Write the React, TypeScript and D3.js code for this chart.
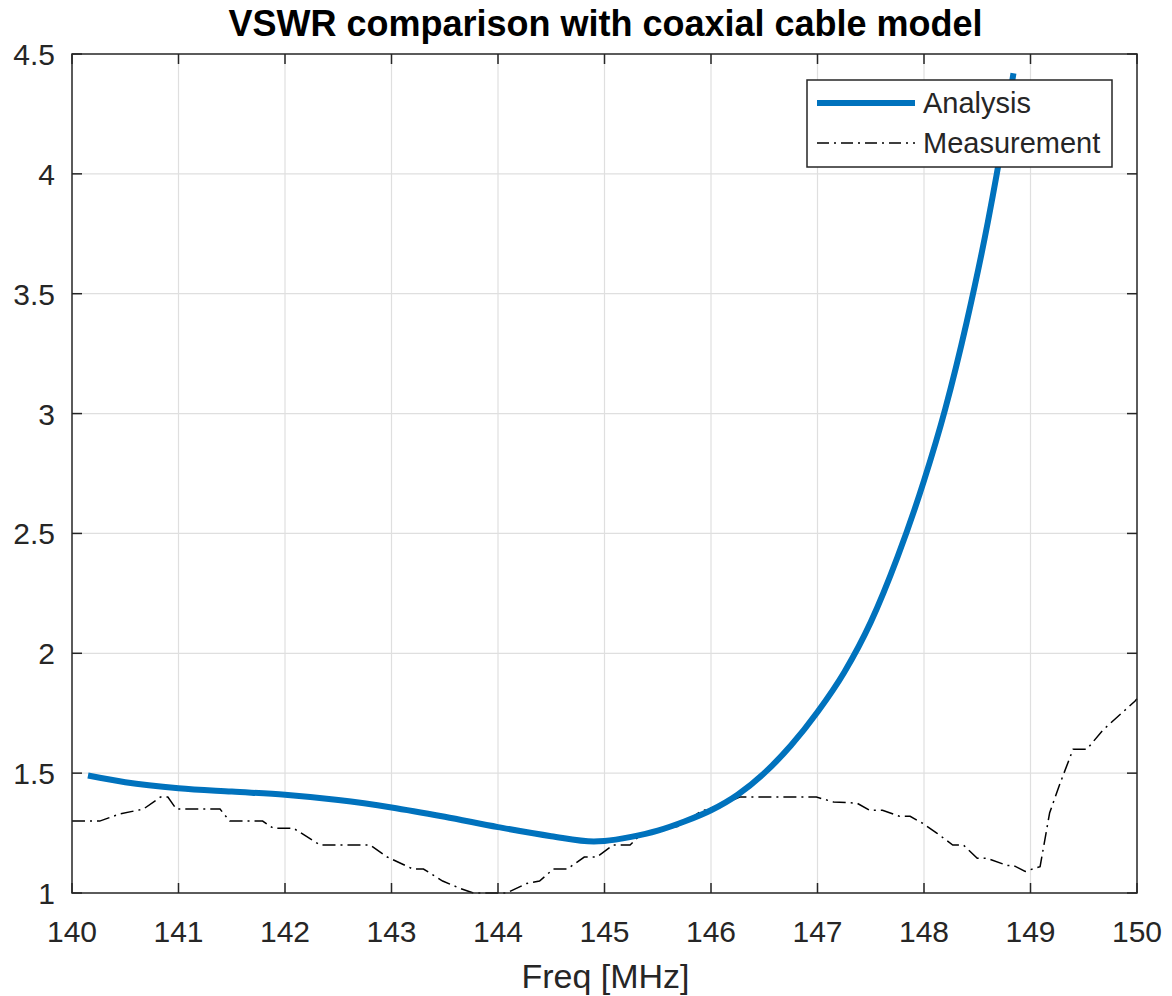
// VSWR chart: analysis vs measurement, matlab-ish look
import React, { useEffect, useRef } from "react";
import * as d3 from "d3";

const analysisFreq = [140.15, 140.5, 141, 141.5, 142, 142.5, 143, 143.5, 144, 144.5, 144.9, 145, 145.25, 145.5, 145.75, 146, 146.25, 146.5, 146.75, 147, 147.25, 147.5, 147.75, 148, 148.2, 148.4, 148.6, 148.75, 148.84];
const analysisVswr = [1.49, 1.462, 1.437, 1.423, 1.41, 1.388, 1.357, 1.318, 1.275, 1.237, 1.215, 1.217, 1.234, 1.26, 1.298, 1.345, 1.41, 1.50, 1.615, 1.755, 1.92, 2.13, 2.40, 2.72, 3.02, 3.38, 3.80, 4.17, 4.42];

const measFreq = [140.0, 140.26, 140.45, 140.67, 140.83, 140.9, 140.98, 141.39, 141.48, 141.79, 141.89, 142.08, 142.33, 142.8, 142.96, 143.2, 143.3, 143.48, 143.64, 143.77, 144.08, 144.27, 144.39, 144.52, 144.65, 144.81, 144.93, 145.08, 145.24, 145.33, 145.49, 145.71, 145.9, 146.11, 146.27, 146.99, 147.15, 147.37, 147.49, 147.61, 147.77, 147.87, 147.99, 148.12, 148.27, 148.37, 148.5, 148.59, 148.78, 148.84, 148.95, 149.09, 149.18, 149.28, 149.4, 149.53, 149.68, 149.98, 150.0];
const measVswr = [1.30, 1.30, 1.33, 1.35, 1.40, 1.40, 1.35, 1.35, 1.30, 1.30, 1.27, 1.27, 1.20, 1.20, 1.15, 1.10, 1.10, 1.05, 1.02, 1.00, 1.00, 1.04, 1.05, 1.10, 1.10, 1.15, 1.15, 1.20, 1.20, 1.24, 1.26, 1.28, 1.34, 1.37, 1.40, 1.40, 1.38, 1.375, 1.345, 1.345, 1.32, 1.32, 1.29, 1.25, 1.20, 1.20, 1.145, 1.145, 1.115, 1.115, 1.09, 1.11, 1.335, 1.46, 1.60, 1.60, 1.68, 1.80, 1.81];

const xTicks = [140, 141, 142, 143, 144, 145, 146, 147, 148, 149, 150];
const yTicks = [1, 1.5, 2, 2.5, 3, 3.5, 4, 4.5];
const seriesNames = ["Analysis", "Measurement"];

const W = 1172;
const H = 996;
const FONT = "'Liberation Sans', Arial, Helvetica, sans-serif";
const INK = "#262626";

export default function App() {
  const ref = useRef<SVGSVGElement>(null);

  useEffect(() => {
    const svg = d3.select(ref.current);
    svg.selectAll("*").remove();

    const left = 72, right = 1137, top = 54, bottom = 893;
    const x = d3.scaleLinear().domain([140, 150]).range([left, right]);
    const y = d3.scaleLinear().domain([1, 4.5]).range([bottom, top]);

    svg.append("rect").attr("width", W).attr("height", H).attr("fill", "#fff");

    // grid
    const grid = svg.append("g").attr("stroke", "#dfdfdf").attr("stroke-width", 1.2);
    grid.selectAll("line.gx")
      .data(xTicks.slice(1, -1))
      .enter().append("line")
      .attr("x1", d => x(d)).attr("x2", d => x(d))
      .attr("y1", top).attr("y2", bottom);
    grid.selectAll("line.gy")
      .data(yTicks.slice(1, -1))
      .enter().append("line")
      .attr("x1", left).attr("x2", right)
      .attr("y1", d => y(d)).attr("y2", d => y(d));

    // series
    const aData = analysisFreq.map((f, i) => [f, analysisVswr[i]] as [number, number]);
    const mData = measFreq.map((f, i) => [f, measVswr[i]] as [number, number]);

    const smooth = d3.line().x(d => x(d[0])).y(d => y(d[1])).curve(d3.curveMonotoneX);
    const straight = d3.line().x(d => x(d[0])).y(d => y(d[1]));

    svg.append("path")
      .attr("d", straight(mData))
      .attr("fill", "none")
      .attr("stroke", "#000")
      .attr("stroke-width", 1.5)
      .attr("stroke-dasharray", "13,5,2,5");

    svg.append("path")
      .attr("d", smooth(aData))
      .attr("fill", "none")
      .attr("stroke", "#0072BD")
      .attr("stroke-width", 6)
      .attr("stroke-linejoin", "round");

    // box + ticks
    const axis = svg.append("g").attr("stroke", INK).attr("stroke-width", 1.5);
    axis.append("rect")
      .attr("x", left).attr("y", top)
      .attr("width", right - left).attr("height", bottom - top)
      .attr("fill", "none");
    const tk = 10;
    xTicks.forEach(t => {
      axis.append("line").attr("x1", x(t)).attr("x2", x(t)).attr("y1", bottom).attr("y2", bottom - tk);
      axis.append("line").attr("x1", x(t)).attr("x2", x(t)).attr("y1", top).attr("y2", top + tk);
    });
    yTicks.forEach(t => {
      axis.append("line").attr("x1", left).attr("x2", left + tk).attr("y1", y(t)).attr("y2", y(t));
      axis.append("line").attr("x1", right).attr("x2", right - tk).attr("y1", y(t)).attr("y2", y(t));
    });

    // tick labels
    const labels = svg.append("g").attr("font-family", FONT).attr("fill", INK).attr("font-size", 30);
    labels.selectAll("text.xt")
      .data(xTicks)
      .enter().append("text")
      .attr("x", d => x(d)).attr("y", 942)
      .attr("text-anchor", "middle")
      .text(d => String(d));
    labels.selectAll("text.yt")
      .data(yTicks)
      .enter().append("text")
      .attr("x", 55).attr("y", d => y(d) + 11)
      .attr("text-anchor", "end")
      .text(d => d3.format("")(d));

    svg.append("text")
      .attr("x", (left + right) / 2 + 1).attr("y", 988)
      .attr("text-anchor", "middle")
      .attr("font-family", FONT).attr("font-size", 34).attr("fill", INK)
      .text("Freq [MHz]");

    svg.append("text")
      .attr("x", (left + right) / 2 + 1).attr("y", 36)
      .attr("text-anchor", "middle")
      .attr("font-family", FONT).attr("font-size", 36).attr("font-weight", "bold").attr("fill", "#000")
      .text("VSWR comparison with coaxial cable model");

    // legend
    const lg = svg.append("g");
    lg.append("rect")
      .attr("x", 807).attr("y", 80).attr("width", 305).attr("height", 87)
      .attr("fill", "#fff").attr("stroke", INK).attr("stroke-width", 1.5);
    const styles = [
      { stroke: "#0072BD", width: 6, dash: null },
      { stroke: "#000", width: 1.5, dash: "12,5,2,5" },
    ];
    seriesNames.forEach((name, i) => {
      const cy = 103 + i * 40;
      lg.append("line")
        .attr("x1", 817).attr("x2", 915).attr("y1", cy).attr("y2", cy)
        .attr("stroke", styles[i].stroke).attr("stroke-width", styles[i].width)
        .attr("stroke-dasharray", styles[i].dash as any);
      lg.append("text")
        .attr("x", 923).attr("y", cy + 10)
        .attr("font-family", FONT).attr("font-size", 29).attr("fill", INK)
        .text(name);
    });
  }, []);

  return (
    <svg ref={ref} width={W} height={H} style={{ position: "absolute", left: 0, top: 0 }} />
  );
}
